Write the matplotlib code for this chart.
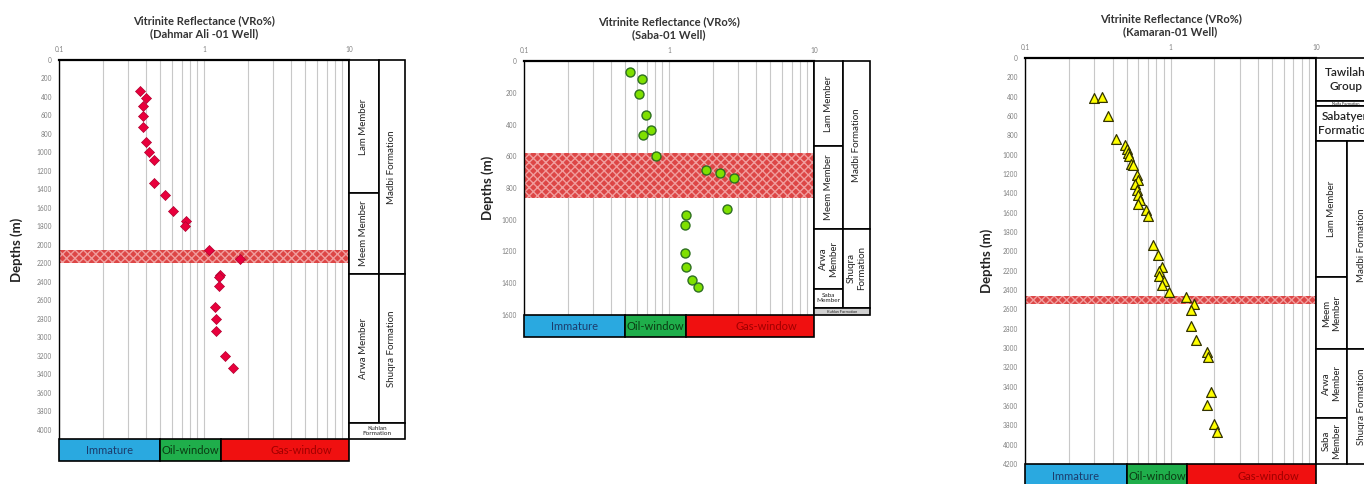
import numpy as np
import matplotlib.pyplot as plt
from matplotlib.patches import Rectangle
from matplotlib.ticker import LogLocator, NullFormatter

plt.rcParams['font.family'] = ['Lato', 'DejaVu Sans']

W, H = 1364, 484

# values (VRo % vs depth in m)
dahmar_vro = [0.36, 0.40, 0.38, 0.38, 0.38, 0.40, 0.42, 0.45, 0.45, 0.54, 0.61, 0.75, 0.74,
              1.09, 1.77, 1.29, 1.26, 1.27, 1.19, 1.21, 1.21, 1.39, 1.59]
dahmar_depth = [330, 410, 495, 605, 720, 890, 990, 1085, 1335, 1465, 1635, 1745, 1795,
                2050, 2150, 2325, 2350, 2450, 2670, 2805, 2930, 3205, 3330]

saba_vro = [0.54, 0.65, 0.62, 0.69, 0.75, 0.66, 0.81, 1.80, 2.24, 2.81, 2.50,
            1.31, 1.28, 1.29, 1.32, 1.44, 1.59]
saba_depth = [70, 115, 210, 340, 435, 465, 600, 685, 705, 735, 935,
              970, 1030, 1210, 1300, 1380, 1425]

kamaran_vro = [0.30, 0.34, 0.37, 0.42, 0.49, 0.50, 0.51, 0.52, 0.535, 0.555, 0.585, 0.60,
               0.567, 0.585, 0.60, 0.617, 0.60, 0.676, 0.704, 0.754, 0.824, 0.869, 0.834,
               0.834, 0.907, 0.879, 0.981, 1.27, 1.45, 1.38, 1.38, 1.50, 1.78, 1.80, 1.90,
               1.79, 1.99, 2.10]
kamaran_depth = [415, 405, 605, 840, 895, 945, 980, 1015, 1095, 1110, 1210, 1260,
                 1305, 1365, 1415, 1470, 1515, 1570, 1635, 1935, 2040, 2165, 2205,
                 2255, 2305, 2350, 2420, 2470, 2540, 2605, 2770, 2915, 3045, 3090, 3460,
                 3585, 3785, 3865]

# maturity windows (VRo % limits)
window_names = ["Immature", "Oil-window", "Gas-window"]
window_edges = [0.1, 0.5, 1.3, 10]

# hatched depth intervals
dahmar_band = (2050, 2200)
saba_band = (580, 865)
kamaran_band = (2460, 2545)

# stratigraphy: (label, top, base, first column, last column)
dahmar_units = [
    ("Lam Member", 0, 1440, 0, 1),
    ("Meem Member", 1440, 2315, 0, 1),
    ("Arwa Member", 2315, 3925, 0, 1),
    ("Madbi Formation", 0, 2315, 1, 2),
    ("Shuqra Formation", 2315, 3925, 1, 2),
    ("Kuhlan\nFormation", 3925, 4100, 0, 2),
]
saba_units = [
    ("Lam Member", 0, 535, 0, 1),
    ("Meem Member", 535, 1058, 0, 1),
    ("Madbi Formation", 0, 1058, 1, 2),
    ("Arwa\nMember", 1058, 1436, 0, 1),
    ("Saba\nMember", 1436, 1556, 0, 1),
    ("Shuqra\nFormation", 1058, 1556, 1, 2),
    ("Kuhlan Formation", 1556, 1600, 0, 2),
]
kamaran_units = [
    ("Tawilah\nGroup", 0, 445, 0, 2),
    ("Naifa Formation", 445, 500, 0, 2),
    ("Sabatyen\nFormation", 500, 860, 0, 2),
    ("Lam Member", 860, 2266, 0, 1),
    ("Meem\nMember", 2266, 3010, 0, 1),
    ("Arwa\nMember", 3010, 3724, 0, 1),
    ("Saba\nMember", 3724, 4200, 0, 1),
    ("Madbi Formation", 860, 3010, 1, 2),
    ("Shuqra Formation", 3010, 4200, 1, 2),
]

window_colors = ['#2aa9e0', '#1fae4b', '#f01010']
window_text = ['#1c3c6c', '#0b3b12', '#a00000']


def px_rect(x0, y0, x1, y1):
    return [x0 / W, 1 - y1 / H, (x1 - x0) / W, (y1 - y0) / H]


def draw_well(fig, frame, cols, title, vro, depth, ymax, band, units, mstyle):
    x0, y0, x1, y1, bar_h = frame
    ax = fig.add_axes(px_rect(x0, y0, x1, y1))
    ax.set_xscale('log')
    ax.set_xlim(0.1, 10)
    ax.set_ylim(ymax, 0)
    ax.xaxis.tick_top()
    ax.set_xticks([0.1, 1, 10], ['0.1', '1', '10'])
    ax.xaxis.set_minor_locator(LogLocator(base=10, subs=np.arange(2, 10)))
    ax.xaxis.set_minor_formatter(NullFormatter())
    ax.set_yticks(np.arange(0, ymax + 1, 200))
    ax.tick_params(which='both', length=0, labelsize=4.7, colors='#808080', pad=5)
    ax.grid(True, axis='x', which='both', color='#c8c8c8', lw=0.8)
    ax.set_axisbelow(True)
    ax.spines['top'].set_linewidth(1.6)
    ax.spines['left'].set_linewidth(1.0)
    ax.spines['right'].set_linewidth(1.2)
    ax.spines['bottom'].set_visible(False)

    ax.axhspan(band[0], band[1], facecolor='#dc3c3c', edgecolor='#f2a3a3',
               hatch='xxxx', lw=0, alpha=0.95, zorder=1.5)
    ax.scatter(vro, depth, zorder=3, clip_on=False, **mstyle)

    ax.text(0.5, 1 + 21 / (y1 - y0), title, transform=ax.transAxes, ha='center',
            va='bottom', fontsize=8, fontweight='bold', color='#333333', linespacing=1.25)
    ax.set_ylabel("Depths (m)", fontsize=9.5, fontweight='bold', color='#222222')
    ax.yaxis.set_label_coords(-(x0 - cols[2]) / (x1 - x0), 0.5)

    # maturity window bar under the plot
    bax = fig.add_axes(px_rect(x0, y1, x1, y1 + bar_h))
    bax.set_xscale('log')
    bax.set_xlim(0.1, 10)
    bax.set_ylim(0, 1)
    bax.axis('off')
    for i, name in enumerate(window_names):
        lo, hi = window_edges[i], window_edges[i + 1]
        bax.add_patch(Rectangle((lo, 0), hi - lo, 1, facecolor=window_colors[i],
                                edgecolor='black', lw=1.2, clip_on=False))
        bax.text(np.sqrt(lo * hi) * (1.3 if i == 2 else 1), 0.5, name, ha='center',
                 va='center', fontsize=8, color=window_text[i])

    # stratigraphic columns on the right
    split, end = cols[0], cols[1]
    sax = fig.add_axes(px_rect(x1, y0, x1 + end, y1))
    sax.set_xlim(0, end)
    sax.set_ylim(ymax, 0)
    sax.axis('off')
    xs = [0, split, end]
    for label, top, base, c0, c1 in units:
        left, right = xs[c0], xs[c1]
        grey = 'Kuhlan Formation' == label
        sax.add_patch(Rectangle((left, top), right - left, base - top,
                                facecolor='#d0d0d0' if grey else 'white',
                                edgecolor='black', lw=1.2, clip_on=False))
        h_px = (base - top) / ymax * (y1 - y0)
        cx, cy = (left + right) / 2, (top + base) / 2
        if c1 - c0 == 1 and h_px > 30:
            sax.text(cx, cy, label, rotation=90, ha='center', va='center',
                     fontsize=7, color='#222222', linespacing=1.1)
        elif h_px > 30:
            sax.text(cx, cy, label, ha='center', va='center', fontsize=8.5,
                     color='#222222', fontweight='semibold', linespacing=1.3, clip_on=False)
        else:
            sax.text(cx, cy, label, ha='center', va='center', fontsize=4.6 if h_px > 8 else 2.8,
                     color='#222222', linespacing=1.0, clip_on=False)
    return ax


fig = plt.figure(figsize=(W / 100, H / 100), dpi=100)

draw_well(fig, (59, 60, 349, 439, 22), (30, 56, 23),
          "Vitrinite Reflectance (VRo%)\n(Dahmar Ali -01 Well)",
          dahmar_vro, dahmar_depth, 4100, dahmar_band, dahmar_units,
          dict(marker='D', s=26, c='#e8003c', edgecolors='#b00030', linewidths=0.5))

draw_well(fig, (524, 61, 814, 315, 22), (29, 56, 494),
          "Vitrinite Reflectance (VRo%)\n(Saba-01 Well)",
          saba_vro, saba_depth, 1600, saba_band, saba_units,
          dict(marker='o', s=42, c='#7fe000', edgecolors='#2d7020', linewidths=1.0))

draw_well(fig, (1025, 58, 1316, 464, 24), (31, 59, 993),
          "Vitrinite Reflectance (VRo%)\n(Kamaran-01 Well)",
          kamaran_vro, kamaran_depth, 4200, kamaran_band, kamaran_units,
          dict(marker='^', s=50, c='#ffff00', edgecolors='#333300', linewidths=0.9))

fig.savefig('out.png', dpi=100)
